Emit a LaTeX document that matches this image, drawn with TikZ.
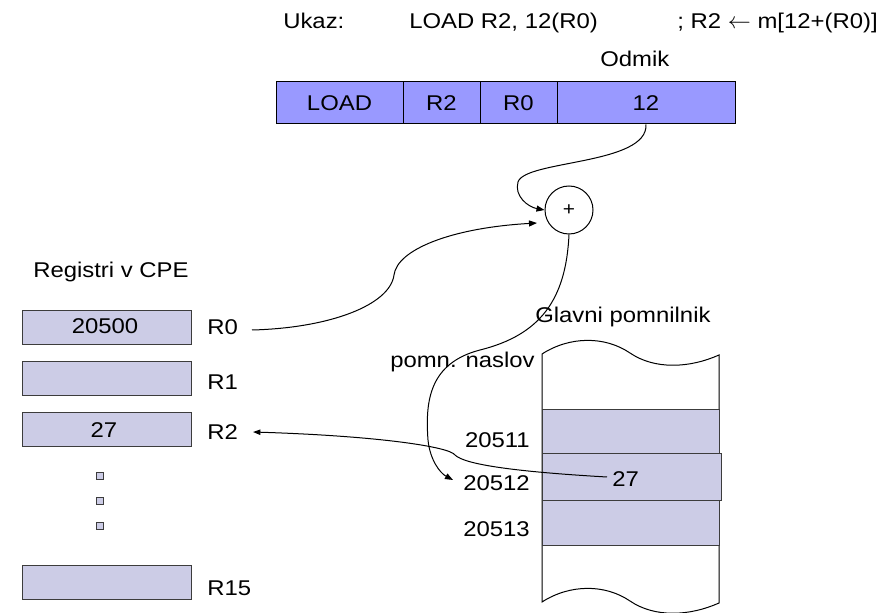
\documentclass[tikz,border=0pt]{standalone}
\usepackage{fontspec}
\setmainfont{Liberation Sans}[FakeStretch=1.12]
\usetikzlibrary{arrows.meta,calc}
\definecolor{instrfill}{RGB}{153,153,255}
\definecolor{regfill}{RGB}{204,204,230}
\definecolor{edgegray}{RGB}{60,60,60}
\begin{document}
\begin{tikzpicture}[x=0.75pt,y=-0.75pt,
  txt/.style={font=\fontsize{16}{19}\selectfont, inner sep=0pt, anchor=base},
  txtw/.style={txt, anchor=base west},
  txte/.style={txt, anchor=base east},
  instrcell/.style={draw=black, fill=instrfill, line width=0.75pt, inner sep=0pt, minimum height=42*0.75pt},
  regbox/.style={draw=edgegray, fill=regfill, line width=0.75pt, inner sep=0pt, minimum width=169*0.75pt, minimum height=34*0.75pt},
  memcell/.style={draw=edgegray, fill=regfill, line width=0.75pt, inner sep=0pt, minimum width=177*0.75pt},
  dotbox/.style={draw=edgegray, fill=regfill, line width=0.6pt, inner sep=0pt, minimum size=7*0.75pt},
  conn/.style={draw=black, line width=0.75pt},
  arr/.style={conn, -{Triangle[length=6pt,width=4.5pt]}},
  arrs/.style={conn, -{Triangle[length=5.5pt,width=4pt]}}]
\path[use as bounding box] (0,0) rectangle (894,613);

% heading
\node[txtw] (ukaz) at (283,29) {Ukaz:};
\node[txtw] (instr) at (409,29) {LOAD R2, 12(R0)};
\node[txte] (rtl) at (878,29) {; R2 $\leftarrow$ m[12+(R0)]};
\node[txtw] (odmik) at (600,67) {Odmik};

% instruction format
\node[instrcell, minimum width=127*0.75pt] (cload) at (339.5,103) {};
\node[instrcell, minimum width=77*0.75pt] (cr2) at (441.5,103) {};
\node[instrcell, minimum width=77*0.75pt] (cr0) at (518.5,103) {};
\node[instrcell, minimum width=178*0.75pt] (c12) at (646,103) {};
\node[txt] at (339.5,111) {LOAD};
\node[txt] at (441.5,111) {R2};
\node[txt] at (518.5,111) {R0};
\node[txt] at (646,111) {12};

% adder
\node[circle, draw=black, line width=0.75pt, minimum size=48*0.75pt, inner sep=0pt, font=\fontsize{14}{16}\selectfont] (plus) at (569,210) {+};

% registers
\node[txtw] (regtitle) at (33,278) {Registri v CPE};
\node[regbox] (r0) at (106.5,327.5) {};
\node[regbox] (r1) at (106.5,379) {};
\node[regbox] (r2) at (106.5,430) {};
\node[regbox] (r15) at (106.5,582) {};
\node[txt] at (105,334) {20500};
\node[txt] at (104,437) {27};
\node[dotbox] (d1) at (100,476) {};
\node[dotbox] (d2) at (100,501) {};
\node[dotbox] (d3) at (100,526) {};
\node[txtw] (lR0) at (207,335) {R0};
\node[txtw] (lR1) at (207,390) {R1};
\node[txtw] (lR2) at (207,440) {R2};
\node[txtw] (lR15) at (207,595) {R15};

% memory
\draw[line width=0.75pt, fill=white] (542,354) .. controls (570,336) and (605,336) .. (630,353)
  .. controls (655,370) and (690,368) .. (719,355) -- (719,603)
  .. controls (690,616) and (655,618) .. (630,601)
  .. controls (605,584) and (570,584) .. (542,602) -- cycle;
\node[memcell, minimum height=44*0.75pt] (m511) at (630.5,432) {};
\node[memcell, minimum width=179*0.75pt, minimum height=46*0.75pt] (m512) at (631.5,477) {};
\node[memcell, minimum height=45*0.75pt] (m513) at (630.5,522.5) {};
\node[txtw] (glavni) at (535,323) {Glavni pomnilnik};
\node[txtw] (pomn) at (390,368) {pomn. naslov};
\node[txte] (a511) at (530,448) {20511};
\node[txte] (a512) at (530,490) {20512};
\node[txte] (a513) at (530,537) {20513};
\node[txtw] (v27) at (612,487) {27};

% connector end points
\coordinate (r0out) at (252,330);
\coordinate (in2) at (537,223);
\coordinate (to512) at (453,480);
\coordinate (from27) at (607,477);
\coordinate (r2in) at (253,432);

% connectors
\draw[arr] (c12.south) .. controls (648,165) and (525,160) .. (518,182)
  .. controls (514,196) and (528,207) .. (plus.west);
\draw[arr] (r0out) .. controls (330,328) and (390,305) .. (394,275)
  .. controls (397,250) and (450,228) .. (in2);
\draw[arr] (plus.south) .. controls (566,300) and (540,335) .. (480,350)
  .. controls (430,363) and (425,400) .. (428,440)
  .. controls (430,460) and (440,473) .. (to512);
\draw[arrs] (from27) .. controls (520,472) and (465,465) .. (455,455)
  .. controls (450,447) and (380,436) .. (r2in);
\end{tikzpicture}
\end{document}
